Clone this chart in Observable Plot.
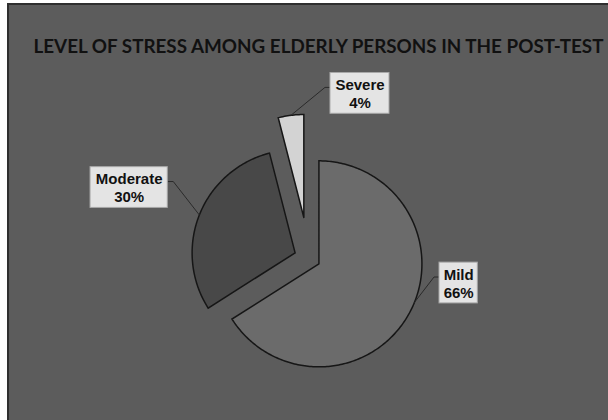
<!DOCTYPE html>
<html><head><meta charset="utf-8">
<script src="https://cdn.jsdelivr.net/npm/d3@7"></script>
<script src="https://cdn.jsdelivr.net/npm/@observablehq/plot@0.6"></script>
<style>
html,body{margin:0;padding:0;background:#fff;width:608px;height:420px;overflow:hidden;}
#wrap{position:absolute;left:7px;top:3px;border-left:2px solid #2f2f2f;border-top:2px solid #2f2f2f;background:#5c5c5c;width:599px;height:415px;}
#wrap svg{display:block;}
</style></head><body><div id="wrap"></div>
<script>
// ---- data ----
const title = "LEVEL OF STRESS AMONG ELDERLY PERSONS IN THE POST-TEST";
const categories = ["Mild", "Moderate", "Severe"];
const percents = [66, 30, 4];

// ---- layout / style (radius units, relative to pie centre) ----
const fills = ["#6b6b6b", "#484848", "#d3d3d3"];
const explode = [0.11, 0.145, 0.40];
const labelCenter = [[1.453, -0.239], [-1.746, 0.688], [0.495, 1.602]];
const boxW = [0.372, 0.750, 0.573];
const boxH = 0.396;
const leaderAngle = [112, null, null]; // degrees, null = bisector
const R = 103, W = 599, H = 415, CX = 299.5, CY = 252.9;

const rows = categories.map((c, i) => ({cat: c, value: percents[i]}));
const arcs = d3.pie().sort(null).value(d => d.value)(rows);

const slicePts = [];
const boxes = [];
const labels = [];
const leaders = [];
arcs.forEach((a, i) => {
  const mid = (a.startAngle + a.endAngle) / 2;
  const ox = explode[i] * Math.sin(mid), oy = explode[i] * Math.cos(mid);
  const c = a.data.cat;
  slicePts.push({cat: c, x: ox, y: oy});
  const n = Math.max(4, Math.ceil((a.endAngle - a.startAngle) * 60));
  for (let j = 0; j <= n; j++) {
    const t = a.startAngle + (a.endAngle - a.startAngle) * j / n;
    slicePts.push({cat: c, x: ox + Math.sin(t), y: oy + Math.cos(t)});
  }
  slicePts.push({cat: c, x: ox, y: oy});
  const [lx, ly] = labelCenter[i];
  boxes.push({cat: c, x1: lx - boxW[i] / 2, x2: lx + boxW[i] / 2, y1: ly - boxH / 2, y2: ly + boxH / 2});
  labels.push({cat: c, x: lx, y: ly, text: `${c}\n${a.data.value}%`});
  const la = leaderAngle[i] != null ? leaderAngle[i] * Math.PI / 180 : mid;
  const ex = ox + Math.sin(la), ey = oy + Math.cos(la);
  const side = ex < lx ? -1 : 1;
  const bx = lx + side * boxW[i] / 2;
  const ely = ly + 6 / R;
  leaders.push({cat: c, x: bx, y: ely}, {cat: c, x: bx + side * 5.5 / R, y: ely}, {cat: c, x: ex, y: ey});
});

const marks = [];
categories.forEach((c, i) => {
  marks.push(Plot.line(slicePts.filter(d => d.cat === c), {
    x: "x", y: "y", fill: fills[i], stroke: "#161616", strokeWidth: 1.5, curve: "linear", strokeLinejoin: "miter", strokeMiterlimit: 3
  }));
});
marks.push(Plot.line(leaders, {x: "x", y: "y", z: "cat", stroke: "#2a2a2a", strokeWidth: 1}));
marks.push(Plot.rect(boxes, {x1: "x1", x2: "x2", y1: "y1", y2: "y2", fill: "#e4e4e4", stroke: "#a8a8a8", strokeWidth: 1}));
marks.push(Plot.text(labels, {x: "x", y: "y", text: "text", fill: "#111", fontSize: 15, fontWeight: "bold", lineHeight: 1.2, fontFamily: "Liberation Sans, Arial, sans-serif"}));
marks.push(Plot.text([title], {frameAnchor: "top", dx: 9.5, dy: 42, lineAnchor: "middle", fill: "#111", fontSize: 18.5, fontWeight: "bold", fontFamily: "Lato, 'Open Sans', sans-serif"}));

const chart = Plot.plot({
  width: W, height: H,
  marginTop: 0, marginBottom: 0, marginLeft: 0, marginRight: 0,
  x: {domain: [-CX / R, (W - CX) / R], axis: null},
  y: {domain: [-(H - CY) / R, CY / R], axis: null},
  style: {background: "transparent", overflow: "visible"},
  marks
});
document.getElementById("wrap").appendChild(chart);
chart.querySelectorAll("text").forEach(t => {
  if (t.textContent === title) {
    t.setAttribute("textLength", 570);
    t.setAttribute("lengthAdjust", "spacingAndGlyphs");
  }
});
</script>
</body></html>
